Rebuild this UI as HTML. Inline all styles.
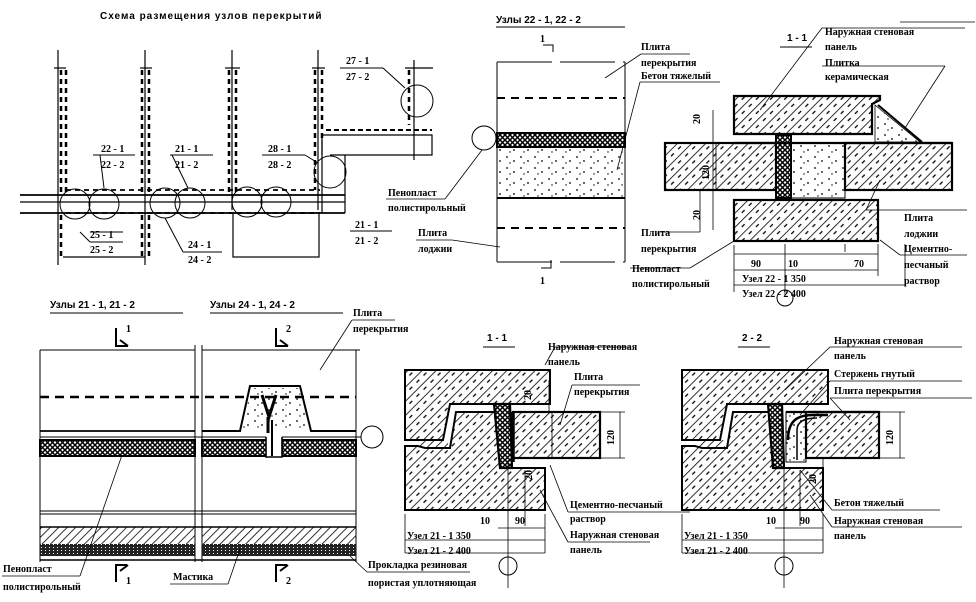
<!DOCTYPE html>
<html><head><meta charset="utf-8"><style>
html,body{margin:0;padding:0;background:#fff;}
svg{display:block;}
text{font-family:"Liberation Serif",serif;font-weight:bold;font-size:10px;fill:#000;}
.s{font-family:"Liberation Sans",sans-serif;}
</style></head><body>
<svg width="976" height="602" viewBox="0 0 976 602" xmlns="http://www.w3.org/2000/svg">
<defs>
<pattern id="h" width="10" height="10" patternUnits="userSpaceOnUse" patternTransform="rotate(45)">
<line x1="0" y1="0" x2="0" y2="10" stroke="#000" stroke-width="1.6"/>
<line x1="5" y1="2" x2="5" y2="6" stroke="#000" stroke-width="1.3"/>
</pattern>
<pattern id="h2" width="6" height="6" patternUnits="userSpaceOnUse" patternTransform="rotate(45)">
<line x1="0" y1="0" x2="0" y2="6" stroke="#000" stroke-width="1.6"/>
</pattern>
<pattern id="m" width="5" height="5" patternUnits="userSpaceOnUse">
<rect width="5" height="5" fill="#fff"/>
<path d="M0,0L5,5M5,0L0,5" stroke="#000" stroke-width="1.5"/>
</pattern>
<pattern id="d" width="14" height="11" patternUnits="userSpaceOnUse">
<circle cx="3" cy="3" r="0.9"/><circle cx="10" cy="7" r="0.9"/><circle cx="6" cy="9" r="0.7"/>
</pattern>
<pattern id="dd" width="4" height="3" patternUnits="userSpaceOnUse">
<rect width="4" height="3" fill="#222"/><rect x="1" y="1" width="1" height="1" fill="#fff"/>
</pattern>
</defs>
<g stroke="#000" fill="none">
<!-- ===== Plan top-left ===== -->
<text x="100" y="19" class="s" stroke="none" font-size="9" letter-spacing="1">Схема  размещения  узлов  перекрытий</text>
<g stroke-width="1.2">
<line x1="58" y1="50" x2="58" y2="265"/><line x1="145" y1="50" x2="145" y2="265"/>
<line x1="232" y1="50" x2="232" y2="210"/><line x1="318" y1="50" x2="318" y2="210"/>
<line x1="414" y1="60" x2="414" y2="160"/>
<line x1="54" y1="68" x2="66" y2="68"/><line x1="140" y1="68" x2="152" y2="68"/><line x1="225" y1="68" x2="240" y2="68"/><line x1="312" y1="68" x2="325" y2="68"/><line x1="405" y1="68" x2="433" y2="68"/>
<line x1="20" y1="195" x2="345" y2="195" stroke-width="1.8"/><line x1="20" y1="213" x2="345" y2="213" stroke-width="1.8"/>
<line x1="20" y1="202" x2="345" y2="202"/>
<line x1="63" y1="257" x2="145" y2="257"/>
<rect x="233" y="213" width="86" height="44"/>
<polyline points="322,155 322,135 432,135 432,155 330,155"/>
<line x1="326" y1="130" x2="432" y2="130" stroke-dasharray="5,3" stroke-width="2"/>
<line x1="322" y1="140" x2="322" y2="213"/><line x1="345" y1="155" x2="345" y2="213"/>
</g>
<g stroke-width="2.5" stroke-dasharray="5,4">
<line x1="61" y1="70" x2="61" y2="195"/><line x1="66" y1="70" x2="66" y2="195"/>
<line x1="142" y1="70" x2="142" y2="195"/><line x1="149" y1="70" x2="149" y2="195"/>
<line x1="229" y1="70" x2="229" y2="195"/><line x1="236" y1="70" x2="236" y2="195"/>
<line x1="315" y1="70" x2="315" y2="190"/><line x1="322" y1="70" x2="322" y2="140"/>
<line x1="409" y1="70" x2="409" y2="125"/>
<line x1="61" y1="215" x2="61" y2="257"/><line x1="142" y1="215" x2="142" y2="257"/><line x1="149" y1="215" x2="149" y2="257"/>
<line x1="66" y1="190" x2="320" y2="190" stroke-width="1.8"/><line x1="66" y1="213" x2="320" y2="213" stroke-width="1.8"/>
</g>
<g stroke-width="1">
<circle cx="75" cy="204" r="15"/><circle cx="104" cy="204" r="15"/>
<circle cx="165" cy="203" r="15"/><circle cx="190" cy="203" r="15"/>
<circle cx="247" cy="202" r="15"/><circle cx="276" cy="202" r="15"/>
<circle cx="330" cy="172" r="16"/><circle cx="417" cy="101" r="16"/>
<line x1="93" y1="155" x2="135" y2="155"/><line x1="170" y1="155" x2="213" y2="155"/><line x1="262" y1="155" x2="305" y2="155"/>
<line x1="340" y1="68" x2="383" y2="68"/>
<line x1="100" y1="155" x2="104" y2="188"/><line x1="172" y1="155" x2="188" y2="188"/><line x1="305" y1="155" x2="318" y2="163"/><line x1="383" y1="68" x2="405" y2="88"/>
<line x1="90" y1="242" x2="123" y2="242"/><line x1="80" y1="232" x2="90" y2="242"/><line x1="90" y1="232" x2="123" y2="232"/>
<line x1="183" y1="252" x2="222" y2="252"/><line x1="165" y1="218" x2="183" y2="252"/>
<line x1="350" y1="231" x2="392" y2="231"/>
</g>
<g stroke="none">
<text x="101" y="152">22 - 1</text><text x="101" y="168">22 - 2</text>
<text x="175" y="152">21 - 1</text><text x="175" y="168">21 - 2</text>
<text x="268" y="152">28 - 1</text><text x="268" y="168">28 - 2</text>
<text x="346" y="64">27 - 1</text><text x="346" y="80">27 - 2</text>
<text x="90" y="238">25 - 1</text><text x="90" y="253">25 - 2</text>
<text x="188" y="248">24 - 1</text><text x="188" y="263">24 - 2</text>
<text x="355" y="228">21 - 1</text><text x="355" y="244">21 - 2</text>
<text x="388" y="196">Пенопласт</text><text x="388" y="211">полистирольный</text>
<text x="418" y="236">Плита</text><text x="418" y="252">лоджии</text>
</g>
<line x1="386" y1="199" x2="445" y2="199" stroke-width="0.8"/>
<line x1="445" y1="199" x2="482" y2="150" stroke-width="0.8"/>
<line x1="416" y1="240" x2="452" y2="240" stroke-width="0.8"/>
<line x1="452" y1="240" x2="500" y2="247" stroke-width="0.8"/>

<!-- ===== Узлы 22 ===== -->
<text x="496" y="23" class="s" stroke="none" font-size="10">Узлы 22 - 1,  22 - 2</text>
<line x1="496" y1="27" x2="625" y2="27"/>
<line x1="497" y1="62" x2="497" y2="262"/><line x1="625" y1="62" x2="625" y2="262"/>
<line x1="497" y1="62" x2="625" y2="62" stroke-dasharray="55,8"/>
<line x1="497" y1="262" x2="625" y2="262" stroke-dasharray="55,8"/>
<line x1="497" y1="98" x2="625" y2="98" stroke-width="2" stroke-dasharray="8,6"/>
<line x1="497" y1="228" x2="625" y2="228" stroke-width="2" stroke-dasharray="8,6"/>
<rect x="497" y="133" width="128" height="14" fill="url(#m)" stroke-width="2"/>
<rect x="497" y="148" width="128" height="49" fill="url(#d)" stroke="none"/>
<line x1="497" y1="198" x2="625" y2="198" stroke-width="2"/>
<circle cx="484" cy="138" r="12"/><line x1="496" y1="138" x2="497" y2="138"/>
<path d="M543,45h10v7 M541,268h10v-8"/><text x="540" y="42" stroke="none">1</text><text x="540" y="284" stroke="none">1</text>
<line x1="641" y1="54" x2="690" y2="54" stroke-width="0.8"/><line x1="641" y1="54" x2="605" y2="78" stroke-width="0.8"/>
<line x1="640" y1="82" x2="720" y2="82" stroke-width="0.8"/><line x1="640" y1="82" x2="617" y2="170" stroke-width="0.8"/>
<g stroke="none"><text x="641" y="50">Плита</text><text x="641" y="66">перекрытия</text><text x="641" y="79">Бетон  тяжелый</text></g>

<!-- ===== 1-1 top ===== -->
<text x="787" y="41" stroke="none" class="s">1 - 1</text><line x1="780" y1="47" x2="812" y2="47"/>
<path d="M734,96H880V100L872,104V134H734Z" fill="url(#h)" stroke-width="2.2"/>
<path d="M875,105L920,142H875Z" fill="url(#d)" stroke-width="0.8"/>
<line x1="878" y1="105" x2="922" y2="142" stroke-width="2"/>
<rect x="665" y="143" width="111" height="47" fill="url(#h)" stroke-width="2.2"/>
<rect x="776" y="135" width="15" height="63" fill="url(#m)" stroke-width="2"/>
<rect x="791" y="143" width="54" height="55" fill="url(#d)" stroke-width="1"/>
<rect x="845" y="143" width="107" height="47" fill="url(#h)" stroke-width="2.2"/>
<line x1="734" y1="143" x2="952" y2="143" stroke-width="2.2"/>
<rect x="734" y="200" width="144" height="41" fill="url(#h)" stroke-width="2.2"/>
<g stroke-width="0.8">
<line x1="716" y1="143" x2="716" y2="190"/><line x1="712" y1="143" x2="720" y2="143"/><line x1="712" y1="190" x2="720" y2="190"/>
<line x1="713" y1="110" x2="713" y2="230"/>
<line x1="734" y1="245" x2="734" y2="292"/><line x1="785" y1="244" x2="785" y2="296"/><line x1="845" y1="244" x2="845" y2="252"/><line x1="878" y1="244" x2="878" y2="276"/><line x1="905" y1="244" x2="905" y2="286"/>
<line x1="734" y1="254" x2="878" y2="254"/><line x1="734" y1="270" x2="878" y2="270"/><line x1="734" y1="285" x2="905" y2="285"/>
<line x1="822" y1="28" x2="965" y2="28"/><line x1="822" y1="28" x2="760" y2="110"/>
<line x1="822" y1="66" x2="945" y2="66"/><line x1="945" y1="66" x2="905" y2="128"/>
<line x1="866" y1="210" x2="967" y2="210"/><line x1="866" y1="210" x2="880" y2="180"/>
<line x1="660" y1="232" x2="700" y2="232"/><line x1="700" y1="232" x2="700" y2="190"/>
<line x1="630" y1="268" x2="690" y2="268"/><line x1="690" y1="268" x2="734" y2="241"/>
<line x1="880" y1="240" x2="900" y2="255"/><line x1="900" y1="255" x2="967" y2="255"/>
<line x1="900" y1="22" x2="975" y2="22"/>
</g>
<circle cx="785" cy="298" r="8"/>
<g stroke="none">
<text x="700" y="124" transform="rotate(-90 700 124)">20</text>
<text x="709" y="180" transform="rotate(-90 709 180)">120</text>
<text x="700" y="220" transform="rotate(-90 700 220)">20</text>
<text x="751" y="267">90</text><text x="788" y="267">10</text><text x="854" y="267">70</text>
<text x="742" y="282">Узел 22 - 1  350</text><text x="742" y="297">Узел 22 - 2  400</text>
<text x="825" y="35">Наружная стеновая</text><text x="825" y="50">панель</text>
<text x="825" y="66">Плитка</text><text x="825" y="80">керамическая</text>
<text x="904" y="221">Плита</text><text x="904" y="237">лоджии</text>
<text x="904" y="252">Цементно-</text><text x="904" y="268">песчаный</text><text x="904" y="284">раствор</text>
<text x="641" y="236">Плита</text><text x="641" y="252">перекрытия</text>
<text x="632" y="272">Пенопласт</text><text x="632" y="287">полистирольный</text>
</g>

<!-- ===== Узлы 21 / 24 plan ===== -->
<text x="50" y="308" class="s" stroke="none">Узлы 21 - 1,  21 - 2</text><line x1="50" y1="313" x2="183" y2="313"/>
<text x="210" y="308" class="s" stroke="none">Узлы 24 - 1,  24 - 2</text><line x1="210" y1="313" x2="343" y2="313"/>
<line x1="40" y1="350" x2="195" y2="350"/><line x1="202" y1="350" x2="360" y2="350"/>
<line x1="40" y1="350" x2="40" y2="562"/><line x1="195" y1="345" x2="195" y2="562"/><line x1="202" y1="345" x2="202" y2="562"/><line x1="356" y1="350" x2="356" y2="562"/>
<line x1="40" y1="397" x2="356" y2="397" stroke-width="2.5" stroke-dasharray="9,6"/>
<line x1="40" y1="431" x2="195" y2="431" stroke-width="1.8"/>
<path d="M202,431H240L250,386H300L311,431H356" stroke-width="2" fill="none"/>
<path d="M242,430L251,388H299L309,430Z" fill="url(#d)" stroke="none"/>
<path d="M262,395l7,22l7,-22 M268,417v40" stroke-width="3"/>
<line x1="40" y1="437" x2="356" y2="437"/>
<rect x="40" y="440" width="155" height="16" fill="url(#m)" stroke-width="2"/>
<rect x="202" y="440" width="66" height="16" fill="url(#m)" stroke-width="2"/>
<rect x="282" y="440" width="74" height="16" fill="url(#m)" stroke-width="2"/>
<rect x="266" y="433" width="16" height="24" fill="#fff" stroke="none"/>
<path d="M266,437v20h16v-20" stroke-width="1.6"/><path d="M272,420v36" stroke-width="2"/>
<circle cx="372" cy="437" r="11"/><line x1="356" y1="437" x2="361" y2="437"/>
<line x1="40" y1="511" x2="356" y2="511"/><line x1="40" y1="514" x2="356" y2="514"/>
<line x1="40" y1="527" x2="356" y2="527" stroke-width="1.6"/>
<rect x="40" y="527" width="155" height="17" fill="url(#h2)" stroke="none"/>
<rect x="202" y="527" width="154" height="17" fill="url(#h2)" stroke="none"/>
<rect x="40" y="544" width="155" height="12" fill="url(#dd)" stroke="none"/>
<rect x="202" y="544" width="154" height="12" fill="url(#dd)" stroke="none"/>
<line x1="40" y1="560" x2="356" y2="560" stroke-width="1.6"/>
<path d="M116,328v18h12 M120,340l8,6 M116,582v-17h11 M120,571l8,-6 M276,328v18h12 M280,340l8,6 M276,582v-17h11 M280,571l8,-6" stroke-width="2"/>
<g stroke="none"><text x="126" y="332" font-size="9">1</text><text x="286" y="332" font-size="9">2</text><text x="126" y="584">1</text><text x="286" y="584">2</text></g>
<g stroke-width="0.8">
<line x1="2" y1="576" x2="80" y2="576"/><line x1="80" y1="576" x2="122" y2="455"/>
<line x1="170" y1="584" x2="228" y2="584"/><line x1="228" y1="584" x2="240" y2="549"/>
<line x1="367" y1="572" x2="470" y2="572"/><line x1="367" y1="572" x2="350" y2="556"/>
<line x1="352" y1="320" x2="395" y2="320"/><line x1="352" y1="320" x2="320" y2="370"/>
</g>
<g stroke="none">
<text x="3" y="572">Пенопласт</text><text x="3" y="590">полистирольный</text>
<text x="173" y="580">Мастика</text>
<text x="368" y="568">Прокладка резиновая</text><text x="368" y="586">пористая уплотняющая</text>
<text x="353" y="316">Плита</text><text x="353" y="332">перекрытия</text>
</g>

<!-- ===== 1-1 bottom ===== -->
<text x="487" y="341" class="s" stroke="none">1 - 1</text><line x1="483" y1="347" x2="515" y2="347"/>
<path d="M405,370H550V404H450L443,440H405Z" fill="url(#h)" stroke-width="2"/>
<path d="M405,446H418L425,448H450L456,412H496L502,468H545V510H405Z" fill="url(#h)" stroke-width="2"/>
<rect x="420" y="440" width="28" height="8" fill="url(#h2)" stroke="none"/>
<path d="M494,404H510L512,468H500Z" fill="url(#m)" stroke-width="2.2"/>
<rect x="513" y="412" width="87" height="46" fill="url(#h)" stroke-width="2.2"/>
<line x1="513" y1="412" x2="513" y2="462" stroke-width="3.5"/>
<g stroke-width="0.8">
<line x1="508" y1="460" x2="508" y2="588"/><line x1="525" y1="470" x2="525" y2="526"/><line x1="545" y1="514" x2="545" y2="553"/><line x1="405" y1="514" x2="405" y2="553"/>
<line x1="498" y1="528" x2="545" y2="528"/><line x1="405" y1="540" x2="545" y2="540"/><line x1="405" y1="553" x2="545" y2="553"/>
<line x1="552" y1="412" x2="552" y2="458"/><line x1="549" y1="380" x2="549" y2="412"/>
<line x1="620" y1="412" x2="620" y2="458"/><line x1="600" y1="412" x2="625" y2="412"/><line x1="600" y1="458" x2="625" y2="458"/>
<line x1="555" y1="347" x2="630" y2="347"/><line x1="545" y1="365" x2="555" y2="347"/>
<line x1="572" y1="385" x2="640" y2="385"/><line x1="572" y1="385" x2="560" y2="425"/>
<line x1="568" y1="512" x2="690" y2="512"/><line x1="568" y1="512" x2="550" y2="465"/>
<line x1="568" y1="542" x2="650" y2="542"/><line x1="568" y1="542" x2="540" y2="490"/>
</g>
<circle cx="508" cy="566" r="9"/>
<g stroke="none">
<text x="531" y="400" transform="rotate(-90 531 400)">20</text>
<text x="532" y="480" transform="rotate(-90 532 480)">20</text>
<text x="614" y="445" transform="rotate(-90 614 445)">120</text>
<text x="480" y="524">10</text><text x="515" y="524">90</text>
<text x="407" y="539">Узел 21 - 1  350</text><text x="407" y="554">Узел 21 - 2  400</text>
<text x="548" y="350">Наружная стеновая</text><text x="548" y="365">панель</text>
<text x="574" y="380">Плита</text><text x="574" y="395">перекрытия</text>
<text x="570" y="508">Цементно-песчаный</text><text x="570" y="522">раствор</text>
<text x="570" y="538">Наружная стеновая</text><text x="570" y="553">панель</text>
</g>

<!-- ===== 2-2 bottom ===== -->
<text x="742" y="341" class="s" stroke="none">2 - 2</text><line x1="738" y1="347" x2="770" y2="347"/>
<path d="M682,370H828V404H727L720,440H682Z" fill="url(#h)" stroke-width="2"/>
<path d="M682,446H695L702,448H727L733,412H770L776,468H823V510H682Z" fill="url(#h)" stroke-width="2"/>
<rect x="697" y="440" width="28" height="8" fill="url(#h2)" stroke="none"/>
<path d="M768,404H782L784,468H773Z" fill="url(#m)" stroke-width="2.2"/>
<rect x="786" y="412" width="20" height="50" fill="url(#d)" stroke-width="1"/>
<rect x="806" y="412" width="73" height="46" fill="url(#h)" stroke-width="2.2"/>
<path d="M788,440c0,-20 10,-25 25,-25h15" stroke-width="2.5"/>
<path d="M797,460v-30c0,-10 10,-12 20,-12" stroke-width="1.5"/>
<line x1="786" y1="412" x2="878" y2="412" stroke-width="2.2"/>
<g stroke-width="0.8">
<line x1="784" y1="460" x2="784" y2="588"/><line x1="800" y1="470" x2="800" y2="526"/><line x1="823" y1="514" x2="823" y2="553"/><line x1="682" y1="514" x2="682" y2="553"/>
<line x1="775" y1="528" x2="823" y2="528"/><line x1="682" y1="540" x2="823" y2="540"/><line x1="682" y1="553" x2="823" y2="553"/>
<line x1="823" y1="458" x2="823" y2="490"/>
<line x1="900" y1="412" x2="900" y2="458"/><line x1="878" y1="412" x2="905" y2="412"/><line x1="878" y1="458" x2="905" y2="458"/>
<line x1="830" y1="347" x2="962" y2="347"/><line x1="830" y1="347" x2="785" y2="390"/>
<line x1="830" y1="381" x2="962" y2="381"/><line x1="830" y1="381" x2="800" y2="415"/>
<line x1="830" y1="398" x2="972" y2="398"/><line x1="830" y1="398" x2="850" y2="420"/>
<line x1="832" y1="510" x2="940" y2="510"/><line x1="832" y1="510" x2="800" y2="470"/>
<line x1="832" y1="527" x2="962" y2="527"/><line x1="832" y1="527" x2="810" y2="495"/>
</g>
<circle cx="784" cy="566" r="9"/>
<g stroke="none">
<text x="816" y="484" transform="rotate(-90 816 484)">20</text>
<text x="893" y="445" transform="rotate(-90 893 445)">120</text>
<text x="766" y="524">10</text><text x="800" y="524">90</text>
<text x="684" y="539">Узел 21 - 1  350</text><text x="684" y="554">Узел 21 - 2  400</text>
<text x="834" y="344">Наружная стеновая</text><text x="834" y="359">панель</text>
<text x="834" y="377">Стержень гнутый</text><text x="834" y="394">Плита перекрытия</text>
<text x="834" y="506">Бетон тяжелый</text>
<text x="834" y="524">Наружная стеновая</text><text x="834" y="539">панель</text>
</g>
</g>
</svg>
</body></html>
